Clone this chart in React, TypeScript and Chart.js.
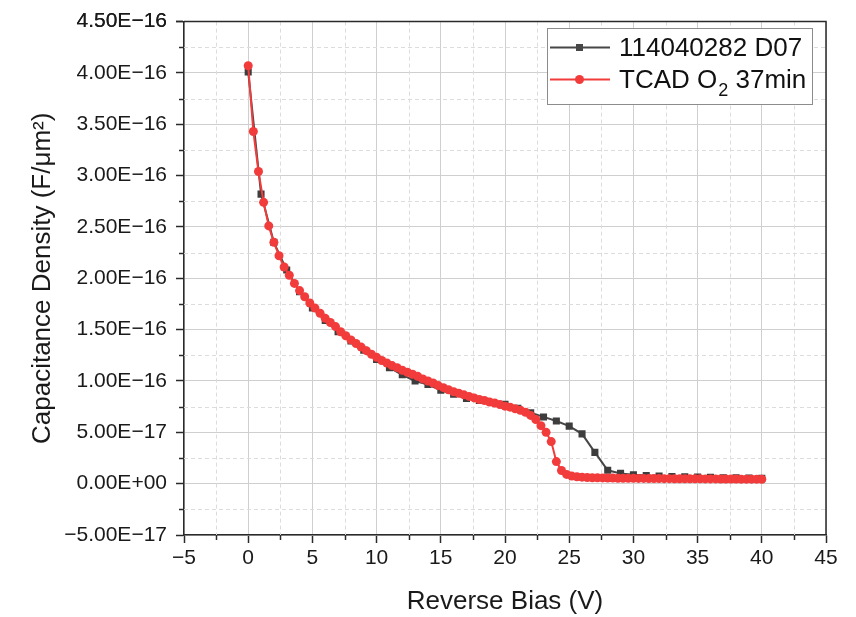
import { useEffect, useRef } from 'react';
import { Chart, registerables } from 'chart.js';

Chart.register(...registerables);

// ---- Data (Reverse Bias in V, Capacitance Density in F/µm²) ----
const measuredBias = [
  0, 1, 2, 3, 4, 5, 6, 7, 8, 9, 10, 11, 12, 13, 14, 15, 16, 17, 18, 19, 20,
  21, 22, 23, 24, 25, 26, 27, 28, 29, 30, 31, 32, 33, 34, 35, 36, 37, 38, 39, 40,
];
const measuredCap = [
  4.01e-16, 2.82e-16, 2.35e-16, 2.08e-16, 1.87e-16, 1.71e-16, 1.59e-16, 1.48e-16, 1.39e-16, 1.3e-16, 1.21e-16,
  1.13e-16, 1.06e-16, 1.0e-16, 9.65e-17, 9.1e-17, 8.7e-17, 8.3e-17, 8.1e-17, 7.9e-17, 7.74e-17,
  7.35e-17, 6.9e-17, 6.5e-17, 6.1e-17, 5.6e-17, 4.85e-17, 3.05e-17, 1.3e-17, 1.0e-17, 8.7e-18,
  8.0e-18, 7.5e-18, 7.0e-18, 6.7e-18, 6.4e-18, 6.1e-18, 5.8e-18, 5.6e-18, 5.4e-18, 5.2e-18,
];
const tcadBias = [
  0, 0.4, 0.8, 1.2, 1.6, 2, 2.4, 2.8, 3.2, 3.6, 4, 4.4, 4.8, 5.2, 5.6, 6, 6.4, 6.8, 7.2, 7.6,
  8, 8.4, 8.8, 9.2, 9.6, 10, 10.4, 10.8, 11.2, 11.6, 12, 12.4, 12.8, 13.2, 13.6, 14, 14.4, 14.8, 15.2, 15.6,
  16, 16.4, 16.8, 17.2, 17.6, 18, 18.4, 18.8, 19.2, 19.6, 20, 20.4, 20.8, 21.2, 21.6, 22, 22.4, 22.8, 23.2, 23.6,
  24, 24.4, 24.8, 25.2, 25.6, 26, 26.4, 26.8, 27.2, 27.6, 28, 28.4, 28.8, 29.2, 29.6, 30, 30.4, 30.8, 31.2, 31.6,
  32, 32.4, 32.8, 33.2, 33.6, 34, 34.4, 34.8, 35.2, 35.6, 36, 36.4, 36.8, 37.2, 37.6, 38, 38.4, 38.8, 39.2, 39.6, 40,
];
const tcadCap = [
  4.07e-16, 3.43e-16, 3.04e-16, 2.74e-16, 2.51e-16, 2.35e-16, 2.22e-16, 2.11e-16, 2.03e-16, 1.95e-16,
  1.88e-16, 1.82e-16, 1.76e-16, 1.71e-16, 1.66e-16, 1.61e-16, 1.57e-16, 1.53e-16, 1.48e-16, 1.44e-16,
  1.4e-16, 1.365e-16, 1.33e-16, 1.295e-16, 1.26e-16, 1.23e-16, 1.2e-16, 1.175e-16, 1.15e-16, 1.13e-16,
  1.105e-16, 1.085e-16, 1.065e-16, 1.045e-16, 1.02e-16, 1.0e-16, 9.8e-17, 9.55e-17, 9.35e-17, 9.15e-17,
  8.95e-17, 8.8e-17, 8.65e-17, 8.5e-17, 8.35e-17, 8.2e-17, 8.1e-17, 7.95e-17, 7.85e-17, 7.7e-17,
  7.55e-17, 7.45e-17, 7.3e-17, 7.15e-17, 6.95e-17, 6.65e-17, 6.25e-17, 5.65e-17, 5.0e-17, 4.1e-17,
  2.15e-17, 1.28e-17, 9.0e-18, 7.4e-18, 6.7e-18, 6.3e-18, 6.0e-18, 5.8e-18, 5.7e-18, 5.6e-18,
  5.5e-18, 5.4e-18, 5.3e-18, 5.3e-18, 5.2e-18, 5.2e-18, 5.1e-18, 5.1e-18, 5.0e-18, 5.0e-18,
  5.0e-18, 4.9e-18, 4.9e-18, 4.8e-18, 4.8e-18, 4.8e-18, 4.7e-18, 4.7e-18, 4.7e-18, 4.6e-18,
  4.6e-18, 4.6e-18, 4.5e-18, 4.5e-18, 4.5e-18, 4.5e-18, 4.4e-18, 4.4e-18, 4.4e-18, 4.4e-18, 4.3e-18,
];
const seriesNames = ['114040282 D07', 'TCAD O\u2082 37min'];
const xTitle = 'Reverse Bias (V)';
const yTitle = 'Capacitance Density (F/\u03bcm\u00b2)';
const xMin = -5, xMax = 45, xStep = 5;
const yMin = -5e-17, yMax = 4.5e-16, yStep = 5e-17;

const BLACK = '#474747';
const RED = '#f23b3b';
const FONT = '"Liberation Sans", Arial, sans-serif';

function fmtSci(v: number): string {
  if (Math.abs(v) < 1e-30) v = 0;
  const [m, e] = v.toExponential(2).split('e');
  const en = parseInt(e, 10);
  const sign = en < 0 ? '\u2212' : '+';
  return `${m.replace('-', '\u2212')}E${sign}${String(Math.abs(en)).padStart(2, '0')}`;
}

const overlayPlugin = {
  id: 'overlay',
  beforeDatasetsDraw(chart: any) {
    const { ctx, chartArea: a, scales } = chart;
    const x = scales.x, y = scales.y;
    ctx.save();
    ctx.strokeStyle = '#dcdcdc';
    ctx.lineWidth = 1;
    ctx.setLineDash([4, 3]);
    for (let v = xMin + xStep / 2; v < xMax; v += xStep) {
      const px = Math.round(x.getPixelForValue(v)) + 0.5;
      ctx.beginPath(); ctx.moveTo(px, a.top); ctx.lineTo(px, a.bottom); ctx.stroke();
    }
    for (let k = 0; k < 10; k++) {
      const v = yMin + yStep / 2 + k * yStep;
      const py = Math.round(y.getPixelForValue(v)) + 0.5;
      ctx.beginPath(); ctx.moveTo(a.left, py); ctx.lineTo(a.right, py); ctx.stroke();
    }
    ctx.restore();
  },
  afterDraw(chart: any) {
    const { ctx, chartArea: a, scales } = chart;
    const x = scales.x, y = scales.y;
    ctx.save();
    // frame
    ctx.strokeStyle = '#2a2a2a';
    ctx.lineWidth = 1.5;
    ctx.beginPath();
    ctx.moveTo(a.left, a.top); ctx.lineTo(a.right, a.top); ctx.lineTo(a.right, a.bottom);
    ctx.stroke();
    // minor ticks
    ctx.lineWidth = 1.5;
    for (let v = xMin + xStep / 2; v < xMax; v += xStep) {
      const px = Math.round(x.getPixelForValue(v)) + 0.5;
      ctx.beginPath(); ctx.moveTo(px, a.bottom); ctx.lineTo(px, a.bottom + 5); ctx.stroke();
    }
    for (let k = 0; k < 10; k++) {
      const v = yMin + yStep / 2 + k * yStep;
      const py = Math.round(y.getPixelForValue(v)) + 0.5;
      ctx.beginPath(); ctx.moveTo(a.left - 5, py); ctx.lineTo(a.left, py); ctx.stroke();
    }
    // legend
    const bx = 547.5, by = 28.5, bw = 265, bh = 76;
    ctx.fillStyle = '#ffffff';
    ctx.fillRect(bx, by, bw, bh);
    ctx.strokeStyle = '#8c8c8c';
    ctx.lineWidth = 1;
    ctx.strokeRect(bx, by, bw, bh);
    const rows = [
      { color: BLACK, y: 47.5, base: 56, marker: 'rect' },
      { color: RED, y: 79.5, base: 87.5, marker: 'circle' },
    ];
    rows.forEach((r, i) => {
      ctx.strokeStyle = r.color;
      ctx.fillStyle = r.color;
      ctx.lineWidth = 2;
      ctx.beginPath(); ctx.moveTo(550, r.y); ctx.lineTo(610, r.y); ctx.stroke();
      if (r.marker === 'rect') {
        ctx.fillRect(579.5 - 3.5, r.y - 3.5, 7, 7);
      } else {
        ctx.beginPath(); ctx.arc(579.5, r.y, 4.5, 0, Math.PI * 2); ctx.fill();
      }
      ctx.fillStyle = '#111';
      ctx.textBaseline = 'alphabetic';
      ctx.textAlign = 'left';
      let tx = 619;
      const name = seriesNames[i];
      const parts = name.split('\u2082');
      parts.forEach((p, j) => {
        ctx.font = `26px ${FONT}`;
        ctx.fillText(p, tx, r.base);
        tx += ctx.measureText(p).width;
        if (j < parts.length - 1) {
          ctx.font = `18px ${FONT}`;
          ctx.fillText('2', tx + 1, r.base + 8);
          tx += ctx.measureText('2').width + 1;
        }
      });
    });
    ctx.restore();
  },
};

export default function App() {
  const ref = useRef<HTMLCanvasElement | null>(null);
  useEffect(() => {
    if (!ref.current) return;
    const chart = new Chart(ref.current, {
      type: 'scatter',
      data: {
        datasets: [
          {
            label: seriesNames[0],
            data: measuredBias.map((v, i) => ({ x: v, y: measuredCap[i] })),
            showLine: true,
            borderColor: BLACK,
            backgroundColor: '#3d3d3d',
            borderWidth: 2,
            pointStyle: 'rect',
            pointRadius: 5,
            pointBorderWidth: 0,
            order: 2,
          },
          {
            label: seriesNames[1],
            data: tcadBias.map((v, i) => ({ x: v, y: tcadCap[i] })),
            showLine: true,
            borderColor: RED,
            backgroundColor: RED,
            borderWidth: 2,
            pointStyle: 'circle',
            pointRadius: 4.5,
            pointBorderWidth: 0,
            order: 1,
          },
        ],
      },
      options: {
        animation: false,
        responsive: false,
        devicePixelRatio: 1,
        layout: { padding: { top: 18, right: 30, left: 0, bottom: 0 } },
        plugins: { legend: { display: false }, tooltip: { enabled: false } },
        scales: {
          x: {
            type: 'linear',
            min: xMin,
            max: xMax,
            afterFit: (s: any) => { s.height = 82; },
            grid: { color: '#cfcfcf', lineWidth: 1, tickLength: 8, tickColor: '#2a2a2a', tickWidth: 1.5 },
            border: { color: '#2a2a2a', width: 1.5 },
            ticks: {
              stepSize: xStep,
              autoSkip: false,
              maxRotation: 0,
              padding: 3,
              color: '#1a1a1a',
              font: { family: FONT, size: 21 },
              callback: (v: any) => (v < 0 ? '\u2212' + Math.abs(v) : String(v)),
            },
            title: {
              display: true,
              text: xTitle,
              color: '#1a1a1a',
              font: { family: FONT, size: 26 },
              padding: { top: 0, bottom: 0 },
            },
          },
          y: {
            type: 'linear',
            min: yMin,
            max: yMax,
            afterFit: (s: any) => { s.width = 184; },
            grid: { color: '#cfcfcf', lineWidth: 1, tickLength: 8, tickColor: '#2a2a2a', tickWidth: 1.5 },
            border: { color: '#2a2a2a', width: 1.5 },
            ticks: {
              stepSize: yStep,
              autoSkip: false,
              padding: 9,
              color: '#1a1a1a',
              font: { family: FONT, size: 21 },
              callback: (v: any) => fmtSci(Number(v)),
            },
            title: {
              display: true,
              text: yTitle,
              color: '#1a1a1a',
              font: { family: FONT, size: 26 },
              padding: { top: 27, bottom: 0 },
            },
          },
        },
      },
      plugins: [overlayPlugin],
    } as any);
    return () => chart.destroy();
  }, []);
  return (
    <div style={{ position: 'fixed', left: 0, top: 0, width: 856, height: 617, background: '#fff' }}>
      <canvas ref={ref} width={856} height={617} />
    </div>
  );
}
